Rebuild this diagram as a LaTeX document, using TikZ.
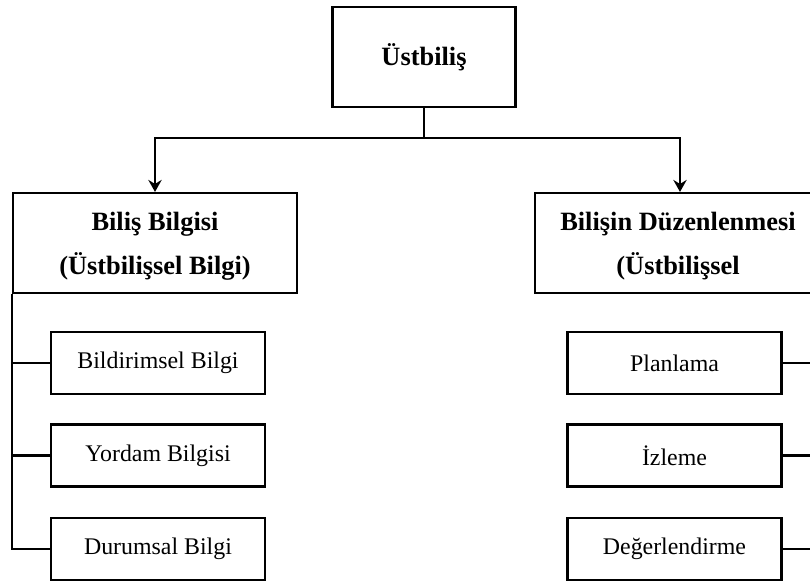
\documentclass[tikz,border=0pt]{standalone}
\usepackage{fontspec}
\setmainfont{Liberation Serif}
\usetikzlibrary{arrows.meta}

\tikzset{every picture/.style={line width=1.6pt}}
\tikzset{
	headbox/.style={draw, align=center, inner sep=0pt, font=\bfseries\fontsize{19.8}{33}\selectfont},
	leafbox/.style={draw, minimum width=214*0.75pt, minimum height=62*0.75pt, inner sep=0pt, font=\fontsize{17.9}{21}\selectfont},
	arr/.style={-{Stealth[length=9pt,width=10pt,inset=3pt]}}}

\begin{document}
\begin{tikzpicture}[x=0.75pt,y=0.75pt,yscale=-1,xscale=1]
	\useasboundingbox (0,0) rectangle (810,583);
	\clip (0,0) rectangle (810,583);

	% Top box
	\node [headbox, minimum width=183*0.75pt, minimum height=100*0.75pt] (ust) at (424,57) {Üstbiliş};
	% Second level
	\node [headbox, minimum width=284*0.75pt, minimum height=100*0.75pt] (bilgi) at (155,243) {};
	\node [headbox, minimum width=290*0.75pt, minimum height=100*0.75pt] (duzen) at (680,243) {};
	% Text Node
	\node [headbox, draw=none] (bilgitxt) at (155,246) {Biliş Bilgisi\\(Üstbilişsel Bilgi)};
	% Text Node
	\node [headbox, draw=none] (duzentxt) at (678,246) {Bilişin Düzenlenmesi\\(Üstbilişsel};

	% Left leaves
	\node [leafbox] (bb) at (158,363) {Bildirimsel Bilgi};
	\node [leafbox] (yb) at (158,455.5) {Yordam Bilgisi};
	\node [leafbox] (db) at (158,549) {Durumsal Bilgi};
	% Right leaves
	\node [leafbox] (pl) at (674.5,363) {Planlama};
	\node [leafbox] (iz) at (674.5,455.5) {İzleme};
	\node [leafbox] (de) at (674.5,549) {Değerlendirme};

	% Connectors
	\coordinate (bar) at (424,138);
	\draw (ust) -- (bar);
	\draw [arr] (bar) -| (bilgi);
	\draw [arr] (bar) -| (duzen);

	\draw (bilgi.south west) |- (db);
	\draw (bilgi.south west |- bb) -- (bb);
	\draw (bilgi.south west |- yb) -- (yb);

	\draw (duzen.south east) |- (de);
	\draw (duzen.south east |- pl) -- (pl);
	\draw (duzen.south east |- iz) -- (iz);

\end{tikzpicture}
\end{document}
